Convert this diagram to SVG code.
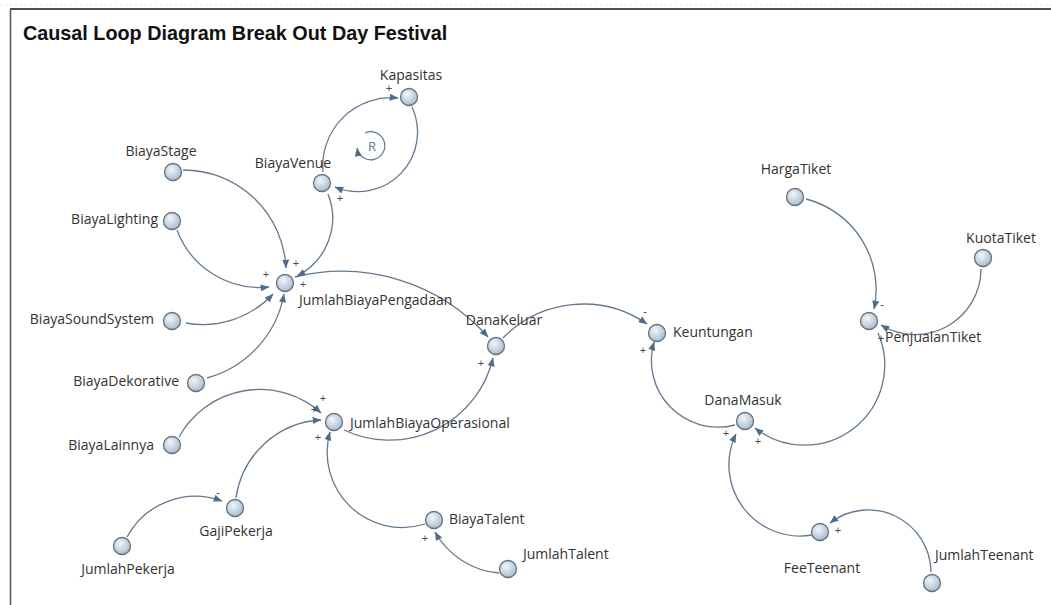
<svg xmlns="http://www.w3.org/2000/svg" width="1051" height="605" viewBox="0 0 1051 605">
<defs>
<radialGradient id="nodeFill" cx="40%" cy="35%" r="70%">
<stop offset="0" stop-color="#f2f6fa"/>
<stop offset="1" stop-color="#a3b8cc"/>
</radialGradient>
<marker id="arrow" viewBox="0 0 10 8" refX="9.5" refY="4" markerWidth="9" markerHeight="7" markerUnits="userSpaceOnUse" orient="auto">
<path d="M0,0 L10,4 L0,8 z" fill="#4e6d8a"/>
</marker>
<style>
.lbl{font-family:"Open Sans","Noto Sans","DejaVu Sans",sans-serif;font-size:14px;fill:#333}
.pol{font-family:"Liberation Sans","DejaVu Sans",sans-serif;font-size:11px;fill:#4a4a4a;text-anchor:middle}
.node{fill:url(#nodeFill);stroke:#66717d;stroke-width:1.3}
.link{fill:none;stroke:#62798f;stroke-width:1.3;marker-end:url(#arrow)}
.title{font-family:"Liberation Sans",Arial,sans-serif;font-weight:bold;font-size:19.8px;fill:#111}
</style>
</defs>
<rect width="1051" height="605" fill="#ffffff"/>
<line x1="0" y1="5" x2="1051" y2="5" stroke="#e2e2e2" stroke-width="1" stroke-dasharray="2,3"/>
<line x1="10" y1="9" x2="1051" y2="9" stroke="#4d4d4d" stroke-width="2"/>
<line x1="10.5" y1="9" x2="10.5" y2="605" stroke="#555" stroke-width="1.5"/>
<text class="title" x="23" y="40">Causal Loop Diagram Break Out Day Festival</text>

<g id="connectors">
<path class="link" d="M412,107 A59.5,59.5 0 0 1 335,187"/>
<path class="link" d="M323,172 A68.4,68.4 0 0 1 398,98"/>
<path class="link" d="M183,170 A102.7,102.7 0 0 1 286,268"/>
<path class="link" d="M328,194 A64.9,64.9 0 0 1 297,276"/>
<path class="link" d="M177,230 A88.3,88.3 0 0 0 269,287"/>
<path class="link" d="M186,323 A95.5,95.5 0 0 0 273,294"/>
<path class="link" d="M207,378 A106.6,106.6 0 0 0 284,294"/>
<path class="link" d="M295,277 A195.4,195.4 0 0 1 488,337"/>
<path class="link" d="M344,430 A106.4,106.4 0 0 0 493,358"/>
<path class="link" d="M503,338 A111.9,111.9 0 0 1 647,324"/>
<path class="link" d="M735,425 A66.7,66.7 0 0 1 654,342"/>
<path class="link" d="M806,199 A93.2,93.2 0 0 1 874,309"/>
<path class="link" d="M981,269 A65.8,65.8 0 0 1 881,325"/>
<path class="link" d="M878,333 A80.1,80.1 0 0 1 755,428"/>
<path class="link" d="M812,535 A71.1,71.1 0 0 1 736,434"/>
<path class="link" d="M931,572 A62.7,62.7 0 0 0 830,523"/>
<path class="link" d="M179,437 A92,92 0 0 1 321,413"/>
<path class="link" d="M236,498 A90.4,90.4 0 0 1 321,420"/>
<path class="link" d="M425,524 A75.1,75.1 0 0 1 330,432"/>
<path class="link" d="M127,537 A77.6,77.6 0 0 1 222,501"/>
<path class="link" d="M499,573 A81.4,81.4 0 0 1 435,532"/>
</g>

<g id="loop-R">
<path d="M365,133 A14,14 0 1 1 357,148" fill="none" stroke="#62798f" stroke-width="1.2" marker-end="url(#arrow)"/>
<text x="372" y="151" font-family="Open Sans, sans-serif" font-size="13" fill="#5d7a95" text-anchor="middle">R</text>
</g>

<g id="polarities">
<text class="pol" x="389" y="92">+</text>
<text class="pol" x="340" y="202">+</text>
<text class="pol" x="296" y="267">+</text>
<text class="pol" x="303" y="288">+</text>
<text class="pol" x="266" y="278">+</text>
<text class="pol" x="645" y="315">-</text>
<text class="pol" x="643" y="354">+</text>
<text class="pol" x="481" y="367">+</text>
<text class="pol" x="882" y="308">-</text>
<text class="pol" x="881" y="342">+</text>
<text class="pol" x="758" y="445">+</text>
<text class="pol" x="726" y="437">+</text>
<text class="pol" x="838" y="534">+</text>
<text class="pol" x="323" y="402">+</text>
<text class="pol" x="314" y="413">+</text>
<text class="pol" x="318" y="441">+</text>
<text class="pol" x="218" y="496">-</text>
<text class="pol" x="425" y="542">+</text>
</g>

<g id="node-Kapasitas"><circle class="node" cx="409" cy="97" r="8.5"/><text class="lbl" x="411" y="80" text-anchor="middle">Kapasitas</text></g>
<g id="node-BiayaVenue"><circle class="node" cx="322" cy="183" r="8.5"/><text class="lbl" x="293" y="168" text-anchor="middle">BiayaVenue</text></g>
<g id="node-BiayaStage"><circle class="node" cx="173" cy="172" r="8.5"/><text class="lbl" x="161" y="155.5" text-anchor="middle">BiayaStage</text></g>
<g id="node-BiayaLighting"><circle class="node" cx="172" cy="221" r="8.5"/><text class="lbl" x="158" y="224" text-anchor="end">BiayaLighting</text></g>
<g id="node-JumlahBiayaPengadaan"><circle class="node" cx="285" cy="283" r="8.5"/><text class="lbl" x="299" y="305">JumlahBiayaPengadaan</text></g>
<g id="node-BiayaSoundSystem"><circle class="node" cx="172" cy="321" r="8.5"/><text class="lbl" x="154" y="324" text-anchor="end">BiayaSoundSystem</text></g>
<g id="node-BiayaDekorative"><circle class="node" cx="196" cy="383" r="8.5"/><text class="lbl" x="179" y="386" text-anchor="end">BiayaDekorative</text></g>
<g id="node-DanaKeluar"><circle class="node" cx="496" cy="346" r="8.5"/><text class="lbl" x="504" y="325" text-anchor="middle">DanaKeluar</text></g>
<g id="node-Keuntungan"><circle class="node" cx="657" cy="333" r="8.5"/><text class="lbl" x="673" y="337">Keuntungan</text></g>
<g id="node-JumlahBiayaOperasional"><circle class="node" cx="334" cy="422" r="8.5"/><text class="lbl" x="350" y="428">JumlahBiayaOperasional</text></g>
<g id="node-BiayaLainnya"><circle class="node" cx="172" cy="445" r="8.5"/><text class="lbl" x="154" y="450" text-anchor="end">BiayaLainnya</text></g>
<g id="node-GajiPekerja"><circle class="node" cx="235" cy="508" r="8.5"/><text class="lbl" x="236" y="536" text-anchor="middle">GajiPekerja</text></g>
<g id="node-JumlahPekerja"><circle class="node" cx="122" cy="546" r="8.5"/><text class="lbl" x="128" y="574" text-anchor="middle">JumlahPekerja</text></g>
<g id="node-BiayaTalent"><circle class="node" cx="434" cy="520" r="8.5"/><text class="lbl" x="449" y="524">BiayaTalent</text></g>
<g id="node-JumlahTalent"><circle class="node" cx="508" cy="569" r="8.5"/><text class="lbl" x="523" y="559">JumlahTalent</text></g>
<g id="node-HargaTiket"><circle class="node" cx="795" cy="197" r="8.5"/><text class="lbl" x="796" y="174" text-anchor="middle">HargaTiket</text></g>
<g id="node-KuotaTiket"><circle class="node" cx="983" cy="258" r="8.5"/><text class="lbl" x="1001" y="243" text-anchor="middle">KuotaTiket</text></g>
<g id="node-PenjualanTiket"><circle class="node" cx="869" cy="321" r="8.5"/><text class="lbl" x="885" y="342">PenjualanTiket</text></g>
<g id="node-DanaMasuk"><circle class="node" cx="745" cy="421" r="8.5"/><text class="lbl" x="743" y="405" text-anchor="middle">DanaMasuk</text></g>
<g id="node-FeeTeenant"><circle class="node" cx="820" cy="532" r="8.5"/><text class="lbl" x="822" y="573" text-anchor="middle">FeeTeenant</text></g>
<g id="node-JumlahTeenant"><circle class="node" cx="932" cy="583" r="8.5"/><text class="lbl" x="935" y="560">JumlahTeenant</text></g>
</svg>
